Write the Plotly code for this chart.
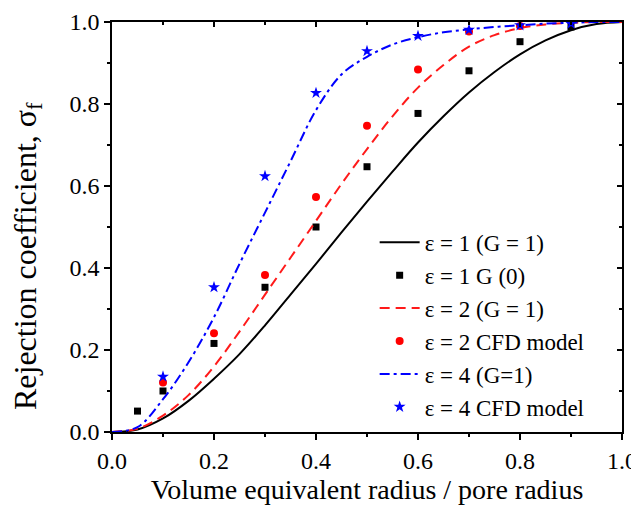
import plotly.graph_objects as go

# Theoretical curves
x_curve = [0, 0.05, 0.1, 0.15, 0.2, 0.25, 0.3, 0.35, 0.4, 0.45, 0.5,
           0.55, 0.6, 0.65, 0.7, 0.75, 0.8, 0.85, 0.9, 0.95, 1.0]
eps1_G1 = [0, 0.006, 0.033, 0.076, 0.13, 0.19, 0.26, 0.335, 0.41, 0.487, 0.562,
           0.635, 0.706, 0.77, 0.828, 0.878, 0.921, 0.955, 0.98, 0.995, 1.0]
eps2_G1 = [0, 0.008, 0.04, 0.09, 0.16, 0.245, 0.335, 0.425, 0.515, 0.605, 0.69,
           0.77, 0.84, 0.895, 0.94, 0.968, 0.985, 0.994, 0.998, 1.0, 1.0]
eps4_G1 = [0, 0.012, 0.08, 0.17, 0.28, 0.41, 0.535, 0.66, 0.785, 0.872, 0.915,
           0.945, 0.963, 0.975, 0.982, 0.988, 0.992, 0.996, 0.998, 1.0, 1.0]

# Model / simulation points
x_sq = [0.05, 0.1, 0.2, 0.3, 0.4, 0.5, 0.6, 0.7, 0.8, 0.9]
eps1_G0 = [0.051, 0.10, 0.216, 0.353, 0.50, 0.647, 0.777, 0.881, 0.952, 0.988]
x_cfd2 = [0.1, 0.2, 0.3, 0.4, 0.5, 0.6, 0.7, 0.8]
eps2_cfd = [0.121, 0.241, 0.383, 0.573, 0.747, 0.884, 0.977, 0.99]
x_cfd4 = [0.1, 0.2, 0.3, 0.4, 0.5, 0.6, 0.7, 0.8, 0.9]
eps4_cfd = [0.135, 0.353, 0.624, 0.827, 0.929, 0.966, 0.981, 0.992, 0.996]

x_title = "Volume equivalent radius / pore radius"
y_title = "Rejection coefficient, σ<sub>f</sub>"

font_family = "Liberation Serif, Times New Roman, serif"

fig = go.Figure()
fig.add_trace(go.Scatter(x=x_curve, y=eps1_G1, mode="lines", name="ε = 1 (G = 1)",
                         line=dict(color="black", width=2, shape="spline")))
fig.add_trace(go.Scatter(x=x_sq, y=eps1_G0, mode="markers", name="ε = 1 G (0)",
                         marker=dict(symbol="square", color="black", size=7)))
fig.add_trace(go.Scatter(x=x_curve, y=eps2_G1, mode="lines", name="ε = 2 (G = 1)",
                         line=dict(color="#ff1a1a", width=2, dash="10px,6px", shape="spline")))
fig.add_trace(go.Scatter(x=x_cfd2, y=eps2_cfd, mode="markers", name="ε = 2 CFD model",
                         marker=dict(symbol="circle", color="#ff0000", size=8)))
fig.add_trace(go.Scatter(x=x_curve, y=eps4_G1, mode="lines", name="ε = 4 (G=1)",
                         line=dict(color="#0000ff", width=2, dash="10px,4px,3px,4px", shape="spline")))
fig.add_trace(go.Scatter(x=x_cfd4, y=eps4_cfd, mode="markers", name="ε = 4 CFD model",
                         marker=dict(symbol="star", color="#0000ff", size=9)))

# invisible trace for top/right mirrored axes
fig.add_trace(go.Scatter(x=[0, 1], y=[0, 1], xaxis="x2", yaxis="y2", mode="markers",
                         marker=dict(opacity=0), showlegend=False, hoverinfo="skip"))

axis_common = dict(
    range=[0, 1], dtick=0.2, tickformat=".1f", showgrid=False, zeroline=False,
    showline=True, linecolor="black", linewidth=1.5, automargin=False,
    ticks="outside", ticklen=6, tickwidth=1.5, tickcolor="black",
    minor=dict(dtick=0.1, ticks="outside", ticklen=3, tickwidth=1.5, tickcolor="black"),
    tickfont=dict(family=font_family, size=24, color="black"),
)

mirror_common = dict(range=[0, 1], dtick=0.2, showgrid=False, automargin=False,
                     zeroline=False, showline=True, linecolor="black", linewidth=1.5,
                     ticks="inside", ticklen=5, tickwidth=1.5, tickcolor="black",
                     showticklabels=False,
                     minor=dict(dtick=0.1, ticks="inside", ticklen=3, tickwidth=1.5,
                                tickcolor="black"))

# page body has an 8px margin, so the figure is sized/margined to compensate
fig.update_layout(
    width=631, height=505,
    margin=dict(l=104, r=17, t=14, b=81, autoexpand=False),
    plot_bgcolor="white", paper_bgcolor="white",
    font=dict(family=font_family, color="black"),
    xaxis=dict(**axis_common,
               title=dict(text=x_title, font=dict(family=font_family, size=28), standoff=7)),
    yaxis=dict(**axis_common),
    xaxis2=dict(overlaying="x", side="top", **mirror_common),
    yaxis2=dict(overlaying="y", side="right", **mirror_common),
    legend=dict(x=0.515, y=0.515, xanchor="left", yanchor="top",
                bgcolor="rgba(0,0,0,0)", font=dict(family=font_family, size=23),
                itemwidth=40, tracegroupgap=0),
    showlegend=True,
    annotations=[dict(text=y_title, textangle=-90, xref="paper", yref="paper",
                      x=-0.166, y=0.43, xanchor="center", yanchor="middle",
                      showarrow=False, font=dict(family=font_family, size=32, color="black"))],
)

fig.write_html("out.html")
